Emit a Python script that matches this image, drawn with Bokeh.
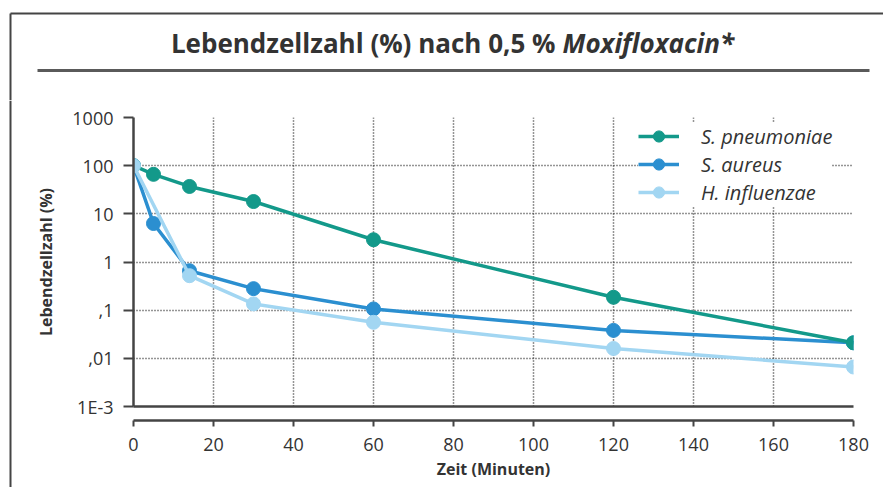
from bokeh.plotting import figure
from bokeh.layouts import column, row
from bokeh.models import Range1d, FixedTicker, LinearAxis, Legend, LegendItem
from bokeh.embed import file_html
from bokeh.resources import INLINE
from bokeh.core.properties import value

# ---- data ----
series_names = ["S. pneumoniae", "S. aureus", "H. influenzae"]
t_pneumoniae = [0, 5, 14, 30, 60, 120, 180]
v_pneumoniae = [100, 66, 37, 18, 2.9, 0.185, 0.021]
t_aureus = [0, 5, 14, 30, 60, 120, 180]
v_aureus = [100, 6.3, 0.66, 0.28, 0.106, 0.038, 0.021]
t_influenzae = [0, 14, 30, 60, 120, 180]
v_influenzae = [100, 0.52, 0.135, 0.056, 0.016, 0.0066]

x_ticks = [0, 20, 40, 60, 80, 100, 120, 140, 160, 180]
y_ticks = [0.001, 0.01, 0.1, 1, 10, 100, 1000]
y_tick_labels = ["1E-3", ",01", ",1", "1", "10", "100", "1000"]

title_main = "Lebendzellzahl (%) nach 0,5 %"
title_drug = "Moxifloxacin*"

colors = {"S. pneumoniae": "#13998a", "S. aureus": "#2b8fd0", "H. influenzae": "#a2d6f2"}

FONT = "Open Sans"
FRAME_C = "#444444"
W, H = 883, 487
HEAD_H = 100          # header strip height
STRIP_W = 12          # left strip carrying the outer frame line
MAIN_W, MAIN_H = W - STRIP_W, H - HEAD_H


def no_frame_align(f):
    if "frame_align" in f.properties():
        f.frame_align = False


def blank(width, height, xr, yr):
    f = figure(width=width, height=height, output_backend="svg", toolbar_location=None,
               x_range=xr, y_range=yr, x_axis_type=None, y_axis_type=None,
               min_border=0)
    f.grid.visible = False
    f.outline_line_color = None
    f.background_fill_color = "white"
    f.border_fill_color = "white"
    no_frame_align(f)
    return f


# ---- header: outer frame (top/left), title, rule ----
head = blank(W, HEAD_H, Range1d(0, W), Range1d(HEAD_H, 0))
head.segment(x0=[10, 10], y0=[13, 13], x1=[W, 10], y1=[13, HEAD_H],
             line_color=FRAME_C, line_width=2)
head.segment(x0=[37], y0=[70], x1=[869], y1=[70], line_color="#5a5a5a", line_width=3)
head.text(x=[555], y=[42], text=[title_main], text_align="right", text_baseline="middle",
          text_font=value(FONT), text_font_size="26px", text_font_style="bold",
          text_color="#333333")
head.text(x=[562], y=[42], text=[title_drug], text_align="left", text_baseline="middle",
          text_font=value(FONT), text_font_size="26px", text_font_style="bold italic",
          text_color="#333333")

# ---- left strip: outer frame line ----
strip = blank(STRIP_W, MAIN_H, Range1d(0, STRIP_W), Range1d(MAIN_H, 0))
strip.segment(x0=[10], y0=[0], x1=[10], y1=[MAIN_H], line_color=FRAME_C, line_width=2)

# ---- main chart ----
FL, FR, FT, FB = 133 - STRIP_W, 853 - STRIP_W, 117 - HEAD_H, 406 - HEAD_H
p = figure(width=MAIN_W, height=MAIN_H, output_backend="svg", toolbar_location=None,
           y_axis_type="log", x_range=Range1d(0, 180), y_range=Range1d(0.001, 1000),
           min_border_left=FL, min_border_right=MAIN_W - FR, min_border_top=FT,
           min_border_bottom=MAIN_H - FB)
no_frame_align(p)
p.outline_line_color = None
p.background_fill_color = "white"
p.border_fill_color = "white"

p.xgrid.ticker = FixedTicker(ticks=x_ticks)
p.ygrid.ticker = FixedTicker(ticks=y_ticks)
for g in (p.xgrid, p.ygrid):
    g.grid_line_color = "#2a2a2a"
    g.grid_line_dash = "1 2"
    g.grid_line_width = 1.5

ya = p.yaxis[0]
ya.ticker = FixedTicker(ticks=y_ticks)
ya.major_label_overrides = {t: l for t, l in zip(y_ticks, y_tick_labels)}
ya.axis_line_color = FRAME_C
ya.axis_line_width = 2.5
ya.major_tick_line_color = FRAME_C
ya.major_tick_line_width = 2
ya.major_tick_out = 10
ya.major_tick_in = 0
ya.minor_tick_line_color = None
ya.major_label_standoff = 10
ya.major_label_text_font = FONT
ya.major_label_text_font_size = "18px"
ya.major_label_text_color = "#333333"
ya.axis_label = "Lebendzellzahl (%)"
ya.axis_label_text_font = FONT
ya.axis_label_text_font_size = "16px"
ya.axis_label_text_font_style = "bold"
ya.axis_label_text_color = "#333333"
ya.axis_label_standoff = 12

# bottom frame line (first below axis; blank label gives it height)
xa0 = p.xaxis[0]
xa0.ticker = FixedTicker(ticks=[90])
xa0.major_label_overrides = {90: " "}
xa0.axis_line_color = FRAME_C
xa0.axis_line_width = 2.5
xa0.major_tick_out = 0
xa0.major_tick_in = 0
xa0.major_tick_line_color = None
xa0.minor_tick_line_color = None
xa0.major_label_standoff = 0
xa0.major_label_text_font = FONT
xa0.major_label_text_font_size = "8px"

# offset x axis
xa = LinearAxis(ticker=FixedTicker(ticks=x_ticks))
xa.axis_line_color = FRAME_C
xa.axis_line_width = 2.5
xa.major_tick_line_color = FRAME_C
xa.major_tick_line_width = 2
xa.major_tick_out = 6
xa.major_tick_in = 0
xa.minor_tick_line_color = None
xa.major_label_standoff = 11
xa.major_label_text_font = FONT
xa.major_label_text_font_size = "18px"
xa.major_label_text_color = "#333333"
xa.axis_label = "Zeit (Minuten)"
xa.axis_label_text_font = FONT
xa.axis_label_text_font_size = "16px"
xa.axis_label_text_font_style = "bold"
xa.axis_label_text_color = "#333333"
xa.axis_label_standoff = 4
p.add_layout(xa, "below")

data = {
    "S. pneumoniae": (t_pneumoniae, v_pneumoniae),
    "S. aureus": (t_aureus, v_aureus),
    "H. influenzae": (t_influenzae, v_influenzae),
}
rends = {}
for name in ["S. aureus", "S. pneumoniae", "H. influenzae"]:
    xs, ys = data[name]
    c = colors[name]
    l = p.line(xs, ys, line_color=c, line_width=3.5)
    s = p.scatter(xs, ys, size=14, fill_color=c, line_color=c)
    rends[name] = [l, s]

legend = Legend(items=[LegendItem(label=n, renderers=rends[n]) for n in series_names],
                location=(505, 200))
legend.border_line_color = None
legend.background_fill_color = "white"
legend.background_fill_alpha = 1
legend.padding = 3
legend.spacing = 0
legend.glyph_width = 41
legend.glyph_height = 28
legend.label_height = 28
legend.label_standoff = 22
legend.label_text_font = FONT
legend.label_text_font_size = "20px"
legend.label_text_font_style = "italic"
legend.label_text_color = "#333333"
legend.label_text_baseline = "middle"
p.add_layout(legend, "center")

layout = column(head, row(strip, p, spacing=0), spacing=0)
open("out.html", "w").write(file_html(layout, INLINE))
